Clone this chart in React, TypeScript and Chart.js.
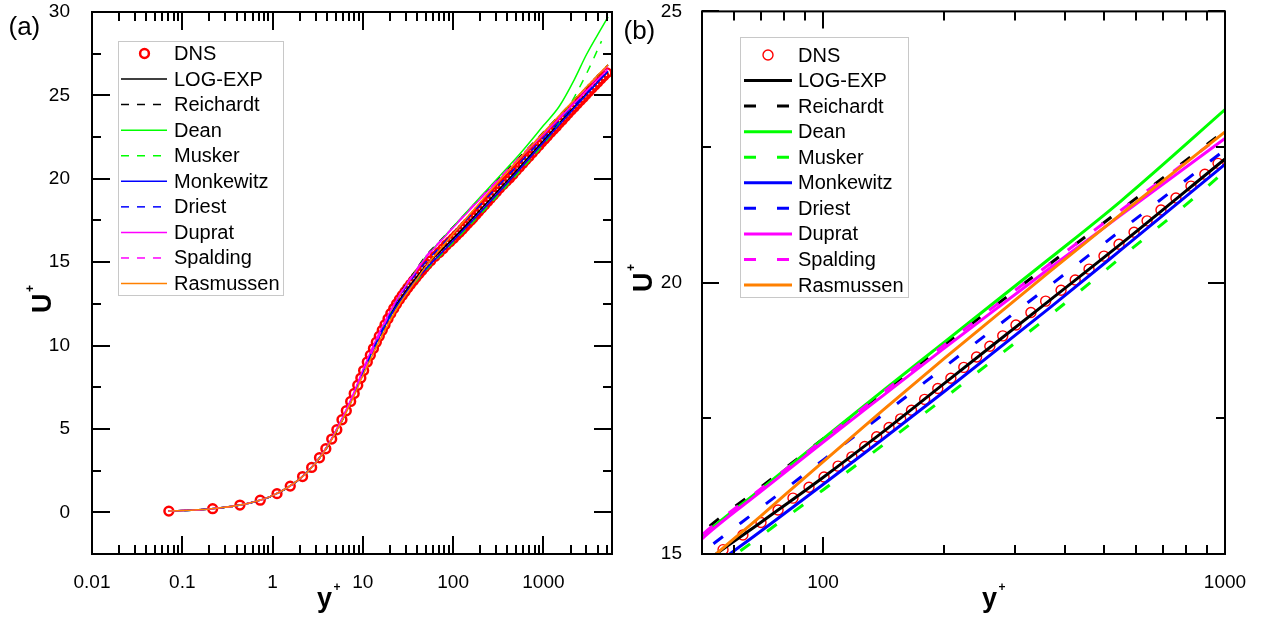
import React, { useEffect, useRef } from 'react';
import { Chart, registerables } from 'chart.js';

Chart.register(...registerables);

const FONT = "'Liberation Sans', Arial, Helvetica, sans-serif";
const H = 619;

// ---- DNS data (y+, U+) ----
const DNS_YPLUS = [
  0.071, 0.217, 0.435, 0.73, 1.12, 1.57, 2.15, 2.71, 3.31, 3.89, 4.52, 5.15, 5.87, 6.56, 7.33, 8.02, 8.78, 9.5,
  10.2, 11.2, 12.1, 13.1, 14.1, 15.2, 16.4, 17.6, 19.0, 20.4, 22.0, 23.6, 25.4, 27.3, 29.3, 31.5, 33.8, 36.3,
  39.0, 41.9, 45.0, 48.3, 51.8, 56.4, 63.2, 70.1, 77.3, 84.2, 92.3, 100.6, 109, 118, 127, 136, 146, 156, 166,
  179, 193, 208, 224, 241, 260, 280, 302, 329, 358, 391, 424, 459, 500, 545, 594, 640, 693, 755, 823, 891, 961,
  1035, 1110, 1200, 1290, 1390, 1500, 1620, 1750, 1890, 2040, 2200, 2370, 2560, 2760, 2980, 3210, 3460, 3730,
  4020, 4340, 4680, 5050,
];
const DNS_UPLUS = [
  0.071, 0.217, 0.435, 0.73, 1.12, 1.57, 2.14, 2.69, 3.27, 3.81, 4.39, 4.95, 5.55, 6.09, 6.65, 7.13, 7.62, 8.05,
  8.5, 9.02, 9.42, 9.82, 10.2, 10.56, 10.92, 11.25, 11.6, 11.92, 12.22, 12.49, 12.76, 13.0, 13.23, 13.46, 13.67, 13.88,
  14.09, 14.3, 14.5, 14.69, 14.87, 15.08, 15.35, 15.58, 15.81, 16.03, 16.23, 16.42, 16.62, 16.79, 16.98, 17.16, 17.33, 17.49, 17.65,
  17.85, 18.05, 18.24, 18.44, 18.63, 18.83, 19.02, 19.22, 19.45, 19.66, 19.86, 20.05, 20.25, 20.49, 20.71, 20.93, 21.14, 21.34, 21.56, 21.78, 22.0, 22.2,
  22.39, 22.57, 22.77, 22.95, 23.14, 23.34, 23.53, 23.73, 23.93, 24.12, 24.31, 24.5, 24.69, 24.88, 25.07, 25.25, 25.44, 25.62,
  25.8, 26.0, 26.17, 26.35,
];

// ---- Model curves, sampled at these y+ ----
const MODEL_YPLUS = [0.07, 0.2, 0.5, 1, 2, 3, 4, 5, 6, 7, 8, 10, 12, 15, 20, 25, 30, 40, 50, 70, 100, 141, 200, 367, 550, 1000, 1500, 2200, 3000, 4400, 5200];
const U_LOGEXP = [0.07, 0.2, 0.5, 1, 2, 2.97, 3.92, 4.85, 5.68, 6.44, 7.14, 8.45, 9.4, 10.52, 11.82, 12.66, 13.28, 14.15, 14.8, 15.58, 16.41, 17.25, 18.14, 19.68, 20.71, 22.28, 23.34, 24.31, 25.09, 26.03, 26.42];
const U_REICHARDT = [0.07, 0.2, 0.5, 1, 1.99, 2.95, 3.87, 4.75, 5.57, 6.33, 7.03, 8.27, 9.3, 10.5, 11.95, 12.95, 13.65, 14.65, 15.39, 16.23, 17.12, 17.98, 18.85, 20.35, 21.34, 22.8, 23.79, 24.73, 25.49, 26.42, 26.83];
const U_DEAN = [0.07, 0.2, 0.5, 1, 2, 2.97, 3.9, 4.8, 5.62, 6.38, 7.08, 8.35, 9.35, 10.55, 11.95, 12.92, 13.6, 14.6, 15.32, 16.19, 17.12, 18.01, 18.9, 20.45, 21.5, 23.19, 24.35, 25.95, 27.45, 29.03, 29.7];
const U_MUSKER = [0.07, 0.2, 0.5, 1, 2, 2.97, 3.92, 4.84, 5.67, 6.42, 7.1, 8.38, 9.3, 10.42, 11.7, 12.5, 13.1, 13.92, 14.53, 15.33, 16.18, 17.01, 17.87, 19.4, 20.46, 22.06, 23.35, 24.9, 26.3, 28.25, null];
const U_MONKEWITZ = [0.07, 0.2, 0.5, 1, 2, 2.97, 3.92, 4.84, 5.67, 6.43, 7.12, 8.42, 9.36, 10.46, 11.74, 12.55, 13.16, 14.0, 14.61, 15.42, 16.28, 17.12, 17.99, 19.54, 20.6, 22.18, 23.24, 24.24, 25.05, 26.03, 26.45];
const U_DRIEST = [0.07, 0.2, 0.5, 1, 2, 2.97, 3.91, 4.82, 5.64, 6.4, 7.1, 8.38, 9.38, 10.56, 11.95, 12.85, 13.5, 14.4, 15.02, 15.85, 16.73, 17.57, 18.44, 19.95, 20.96, 22.45, 23.46, 24.42, 25.19, 26.14, 26.56];
const U_DUPRAT = [0.07, 0.2, 0.5, 1, 2, 2.98, 3.94, 4.87, 5.72, 6.5, 7.22, 8.55, 9.55, 10.72, 12.05, 12.95, 13.6, 14.55, 15.28, 16.15, 17.06, 17.92, 18.79, 20.27, 21.24, 22.66, 23.62, 24.53, 25.27, 26.18, 26.58];
const U_SPALDING = [0.07, 0.2, 0.5, 1, 2, 2.96, 3.9, 4.8, 5.62, 6.38, 7.08, 8.33, 9.35, 10.55, 11.98, 12.95, 13.65, 14.62, 15.35, 16.2, 17.1, 17.98, 18.85, 20.35, 21.33, 22.76, 23.75, 24.69, 25.45, 26.38, 26.79];
const U_RASMUSSEN = [0.07, 0.2, 0.5, 1, 2, 2.96, 3.89, 4.78, 5.58, 6.32, 6.99, 8.2, 9.1, 10.2, 11.5, 12.4, 13.05, 14.0, 14.76, 15.7, 16.7, 17.65, 18.6, 20.21, 21.26, 22.78, 23.79, 24.74, 25.5, 26.43, 26.84];

const MODEL_NAMES = ['LOG-EXP', 'Reichardt', 'Dean', 'Musker', 'Monkewitz', 'Driest', 'Duprat', 'Spalding', 'Rasmussen'];
const MODEL_VALUES = [U_LOGEXP, U_REICHARDT, U_DEAN, U_MUSKER, U_MONKEWITZ, U_DRIEST, U_DUPRAT, U_SPALDING, U_RASMUSSEN];
const MODEL_COLORS = ['#000000', '#000000', '#00ff00', '#00ff00', '#0000ff', '#0000ff', '#ff00ff', '#ff00ff', '#ff8000'];
const MODEL_DASHED = [false, true, false, true, false, true, false, true, false];

// ---- Tick values ----
const A_X_MAJOR = [0.01, 0.1, 1, 10, 100, 1000];
const A_X_MINOR = [
  0.02, 0.03, 0.04, 0.05, 0.06, 0.07, 0.08, 0.09,
  0.2, 0.3, 0.4, 0.5, 0.6, 0.7, 0.8, 0.9,
  2, 3, 4, 5, 6, 7, 8, 9,
  20, 30, 40, 50, 60, 70, 80, 90,
  200, 300, 400, 500, 600, 700, 800, 900,
  2000, 3000, 4000, 5000,
];
const A_Y_MAJOR = [0, 5, 10, 15, 20, 25, 30];
const A_Y_MINOR = [2.5, 7.5, 12.5, 17.5, 22.5, 27.5];
const B_X_MAJOR = [100, 1000];
const B_X_MINOR = [60, 70, 80, 90, 200, 300, 400, 500, 600, 700, 800, 900];
const B_Y_MAJOR = [15, 20, 25];
const B_Y_MINOR = [17.5, 22.5];

type Panel = {
  key: string; left: number; width: number;
  xMin: number; xMax: number; yMin: number; yMax: number;
  xMajor: number[]; xMinor: number[]; yMajor: number[]; yMinor: number[];
  padTop: number; padRight: number; yAxisWidth: number; xAxisHeight: number;
  yLabelPad: number; xLabelPad: number;
  majorLen: number; minorLen: number;
  lineWidth: number; dash: number[]; spaldingOffset: number;
  dnsRadius: number; dnsBorder: number;
  legend: { x0: number; y0: number; x1: number; y1: number; row0: number; step: number; lineX0: number; lineX1: number; markerX: number; textX: number };
  tag: string; tagX: number; tagY: number;
  uX: number; uY: number; yX: number; yBase: number;
};

const PANEL_A: Panel = {
  key: 'a', left: 0, width: 640,
  xMin: 0.01, xMax: 5750, yMin: -2.5, yMax: 30,
  xMajor: A_X_MAJOR, xMinor: A_X_MINOR, yMajor: A_Y_MAJOR, yMinor: A_Y_MINOR,
  padTop: 12, padRight: 28, yAxisWidth: 92, xAxisHeight: 65,
  yLabelPad: 22, xLabelPad: 17,
  majorLen: 18, minorLen: 9,
  lineWidth: 1.5, dash: [8, 8], spaldingOffset: 5,
  dnsRadius: 4.4, dnsBorder: 2.5,
  legend: { x0: 118, y0: 41, x1: 283, y1: 295, row0: 53.5, step: 25.56, lineX0: 121, lineX1: 167, markerX: 144.5, textX: 174 },
  tag: '(a)', tagX: 8.5, tagY: 35,
  uX: 50.5, uY: 313, yX: 317, yBase: 607,
};

const PANEL_B: Panel = {
  key: 'b', left: 610, width: 651,
  xMin: 50, xMax: 1000, yMin: 15, yMax: 25,
  xMajor: B_X_MAJOR, xMinor: B_X_MINOR, yMajor: B_Y_MAJOR, yMinor: B_Y_MINOR,
  padTop: 11, padRight: 36, yAxisWidth: 92, xAxisHeight: 65,
  yLabelPad: 20, xLabelPad: 17,
  majorLen: 17, minorLen: 9,
  lineWidth: 3, dash: [12, 21], spaldingOffset: 9,
  dnsRadius: 5, dnsBorder: 1.4,
  legend: { x0: 130, y0: 37, x1: 298, y1: 297, row0: 55, step: 25.56, lineX0: 134, lineX1: 182, markerX: 158, textX: 188 },
  tag: '(b)', tagX: 13.5, tagY: 38.5,
  uX: 42, uY: 292, yX: 372, yBase: 607,
};

function isMajor(v: number, list: number[]) {
  return list.some((m) => (m === 0 ? Math.abs(v) < 1e-9 : Math.abs(v - m) <= Math.abs(m) * 1e-6));
}

function makeDatasets(p: Panel) {
  const ds: any[] = [];
  ds.push({
    label: 'DNS',
    data: DNS_YPLUS.map((x, i) => ({ x, y: DNS_UPLUS[i] })),
    showLine: false,
    pointRadius: p.dnsRadius,
    pointBorderWidth: p.dnsBorder,
    pointBorderColor: '#ff0000',
    pointBackgroundColor: 'rgba(0,0,0,0)',
    pointStyle: 'circle',
    order: 10,
  });
  MODEL_NAMES.forEach((name, k) => {
    ds.push({
      label: name,
      data: MODEL_YPLUS.map((x, i) => ({ x, y: MODEL_VALUES[k][i] })),
      showLine: true,
      borderColor: MODEL_COLORS[k],
      backgroundColor: MODEL_COLORS[k],
      borderWidth: p.lineWidth,
      borderDash: MODEL_DASHED[k] ? p.dash : [],
      borderDashOffset: name === 'Spalding' ? p.spaldingOffset : 0,
      pointRadius: 0,
      cubicInterpolationMode: 'monotone',
      fill: false,
      spanGaps: false,
      order: 9 - k,
    });
  });
  return ds;
}

function makeDecor(p: Panel) {
  return {
    id: 'decor_' + p.key,
    afterDraw(chart: any) {
      const ctx: CanvasRenderingContext2D = chart.ctx;
      const a = chart.chartArea;
      const xs = chart.scales.x;
      const ys = chart.scales.y;
      ctx.save();
      // inward ticks on all four sides
      ctx.strokeStyle = '#000';
      ctx.lineWidth = 2;
      ctx.lineCap = 'butt';
      ctx.setLineDash([]);
      ctx.beginPath();
      const xt: [number, number][] = [
        ...p.xMajor.map((v) => [v, p.majorLen] as [number, number]),
        ...p.xMinor.map((v) => [v, p.minorLen] as [number, number]),
      ];
      for (const [v, len] of xt) {
        const px = Math.round(xs.getPixelForValue(v));
        ctx.moveTo(px, a.bottom); ctx.lineTo(px, a.bottom - len);
        ctx.moveTo(px, a.top); ctx.lineTo(px, a.top + len);
      }
      const yt: [number, number][] = [
        ...p.yMajor.map((v) => [v, p.majorLen] as [number, number]),
        ...p.yMinor.map((v) => [v, p.minorLen] as [number, number]),
      ];
      for (const [v, len] of yt) {
        const py = Math.round(ys.getPixelForValue(v));
        ctx.moveTo(a.left, py); ctx.lineTo(a.left + len, py);
        ctx.moveTo(a.right, py); ctx.lineTo(a.right - len, py);
      }
      ctx.stroke();
      ctx.strokeRect(a.left, a.top, a.right - a.left, a.bottom - a.top);

      // legend
      const L = p.legend;
      ctx.fillStyle = '#ffffff';
      ctx.fillRect(L.x0, L.y0, L.x1 - L.x0, L.y1 - L.y0);
      ctx.strokeStyle = '#c8c8c8';
      ctx.lineWidth = 1;
      ctx.strokeRect(L.x0 + 0.5, L.y0 + 0.5, L.x1 - L.x0, L.y1 - L.y0);
      ctx.font = `20px ${FONT}`;
      ctx.textAlign = 'left';
      ctx.textBaseline = 'middle';
      chart.data.datasets.forEach((d: any, i: number) => {
        const y = L.row0 + i * L.step;
        if (d.showLine) {
          ctx.strokeStyle = d.borderColor;
          ctx.lineWidth = d.borderWidth;
          ctx.setLineDash(d.borderDash || []);
          ctx.lineDashOffset = 0;
          ctx.beginPath();
          ctx.moveTo(L.lineX0, y);
          ctx.lineTo(L.lineX1, y);
          ctx.stroke();
          ctx.setLineDash([]);
        } else {
          ctx.strokeStyle = d.pointBorderColor;
          ctx.lineWidth = d.pointBorderWidth;
          ctx.beginPath();
          ctx.arc(L.markerX, y, d.pointRadius, 0, Math.PI * 2);
          ctx.stroke();
        }
        ctx.fillStyle = '#000';
        ctx.fillText(d.label, L.textX, y + 1);
      });

      // panel tag
      ctx.fillStyle = '#000';
      ctx.textBaseline = 'alphabetic';
      ctx.textAlign = 'left';
      ctx.font = `26px ${FONT}`;
      ctx.fillText(p.tag, p.tagX, p.tagY);

      // x title  y+
      ctx.font = `bold 27px ${FONT}`;
      ctx.fillText('y', p.yX, p.yBase);
      const wy = ctx.measureText('y').width;
      ctx.font = `bold 12px ${FONT}`;
      ctx.textAlign = 'center';
      ctx.textBaseline = 'middle';
      ctx.fillText('+', p.yX + wy + 5, p.yBase - 19);

      // y title  U+
      ctx.save();
      ctx.translate(p.uX, p.uY);
      ctx.rotate(-Math.PI / 2);
      ctx.font = `bold 27px ${FONT}`;
      ctx.textAlign = 'left';
      ctx.textBaseline = 'alphabetic';
      ctx.fillText('U', 0, 0);
      const wu = ctx.measureText('U').width;
      ctx.font = `bold 12px ${FONT}`;
      ctx.textAlign = 'center';
      ctx.textBaseline = 'middle';
      ctx.fillText('+', wu + 5, -20);
      ctx.restore();

      ctx.restore();
    },
  };
}

function makeConfig(p: Panel): any {
  const xTicks = [...p.xMajor, ...p.xMinor].sort((a, b) => a - b);
  const yTicks = [...p.yMajor, ...p.yMinor].sort((a, b) => a - b);
  const tickFont = { family: FONT, size: 19 };
  return {
    type: 'scatter',
    data: { datasets: makeDatasets(p) },
    options: {
      responsive: false,
      maintainAspectRatio: false,
      animation: false,
      devicePixelRatio: 1,
      events: [],
      layout: { padding: { left: 0, top: p.padTop, right: p.padRight, bottom: 0 } },
      plugins: { legend: { display: false }, tooltip: { enabled: false }, title: { display: false } },
      scales: {
        x: {
          type: 'logarithmic',
          position: 'bottom',
          min: p.xMin,
          max: p.xMax,
          bounds: 'data',
          // tick marks are drawn inward by the decor plugin; tickLength only offsets the labels
          grid: { display: false, drawTicks: true, tickLength: p.xLabelPad },
          border: { display: false },
          ticks: {
            autoSkip: false, maxRotation: 0, minRotation: 0,
            padding: 0, color: '#000', font: tickFont,
            callback: (v: number) => (isMajor(v, p.xMajor) ? String(v) : ''),
          },
          afterBuildTicks: (s: any) => { s.ticks = xTicks.map((v) => ({ value: v })); },
          afterFit: (s: any) => { s.height = p.xAxisHeight; },
        },
        y: {
          type: 'linear',
          position: 'left',
          min: p.yMin,
          max: p.yMax,
          bounds: 'data',
          grid: { display: false, drawTicks: true, tickLength: p.yLabelPad },
          border: { display: false },
          ticks: {
            autoSkip: false, padding: 0, color: '#000', font: tickFont,
            callback: (v: number) => (isMajor(v, p.yMajor) ? String(v) : ''),
          },
          afterBuildTicks: (s: any) => { s.ticks = yTicks.map((v) => ({ value: v })); },
          afterFit: (s: any) => { s.width = p.yAxisWidth; },
        },
      },
    },
    plugins: [makeDecor(p)],
  };
}

function PanelChart({ p }: { p: Panel }) {
  const ref = useRef<HTMLCanvasElement | null>(null);
  useEffect(() => {
    if (!ref.current) return;
    const chart = new Chart(ref.current, makeConfig(p));
    return () => chart.destroy();
  }, [p]);
  return (
    <canvas
      ref={ref}
      width={p.width}
      height={H}
      style={{ position: 'absolute', left: p.left, top: 0, width: p.width, height: H }}
    />
  );
}

export default function App() {
  return (
    <div style={{ position: 'absolute', left: 0, top: 0, width: 1261, height: H, background: '#ffffff', overflow: 'hidden' }}>
      <PanelChart p={PANEL_A} />
      <PanelChart p={PANEL_B} />
    </div>
  );
}
